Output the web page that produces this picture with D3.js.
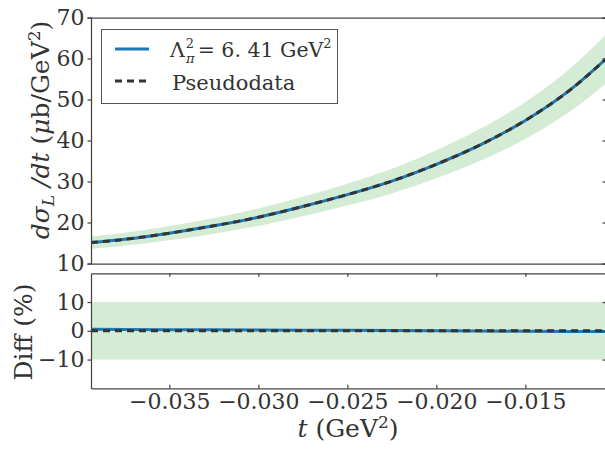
<!DOCTYPE html>
<html>
<head>
<meta charset="utf-8">
<script src="https://cdn.jsdelivr.net/npm/d3@7"></script>
<style>
  body { margin: 0; background: #fff; }
  svg { display: block; font-family: "DejaVu Serif", serif; }
  .axis text { font-family: "DejaVu Serif", serif; font-size: 22px; fill: #333; }
  .axis path, .axis line { stroke: #444; stroke-width: 1.25; }
</style>
</head>
<body>
<svg id="chart" width="605" height="449"></svg>
<script>
// values
const tValues = [-0.0394, -0.0375, -0.035, -0.0325, -0.030, -0.0275, -0.025, -0.0225, -0.020, -0.0175, -0.015, -0.0125, -0.0104];
const fitValues = [15.1, 15.9, 17.4, 19.2, 21.3, 23.9, 26.8, 30.1, 34.2, 39.0, 44.9, 52.3, 60.2];
const pseudoValues = [15.1, 15.9, 17.4, 19.2, 21.3, 23.9, 26.8, 30.1, 34.2, 39.0, 44.9, 52.3, 60.2];
const diffValues = [0.5, 0.45, 0.4, 0.35, 0.28, 0.22, 0.15, 0.08, 0.0, -0.07, -0.14, -0.2, -0.25];
const bandFraction = 0.10;
const xTicks = [-0.035, -0.030, -0.025, -0.020, -0.015];
const topYTicks = [10, 20, 30, 40, 50, 60, 70];
const diffYTicks = [-10, 0, 10];

const BLUE = '#1f77b4';
const DASH = '#333333';
const BAND = '#d4ecd4';

const svg = d3.select('#chart');

const plot = { left: 91, right: 606 };
const topBox = { top: 17.5, bottom: 263.5 };
const botBox = { top: 273.3, bottom: 388.3 };

const x = d3.scaleLinear().domain([-0.0394, -0.01047]).range([plot.left, plot.right]);
const yTop = d3.scaleLinear().domain([10, 70]).range([topBox.bottom, topBox.top]);
const yDiff = d3.scaleLinear().domain([-20, 20]).range([botBox.bottom, botBox.top]);

const rows = tValues.map((t, i) => ({ t, fit: fitValues[i], pseudo: pseudoValues[i], diff: diffValues[i] }));

// clip paths
const defs = svg.append('defs');
defs.append('clipPath').attr('id', 'clipTop')
  .append('rect').attr('x', plot.left).attr('y', topBox.top)
  .attr('width', plot.right - plot.left).attr('height', topBox.bottom - topBox.top);
defs.append('clipPath').attr('id', 'clipBot')
  .append('rect').attr('x', plot.left).attr('y', botBox.top)
  .attr('width', plot.right - plot.left).attr('height', botBox.bottom - botBox.top);

// ---- top panel ----
const gTop = svg.append('g').attr('clip-path', 'url(#clipTop)');

gTop.append('path')
  .datum(rows)
  .attr('fill', BAND)
  .attr('d', d3.area().curve(d3.curveNatural)
    .x(d => x(d.t))
    .y0(d => yTop(d.fit * (1 - bandFraction)))
    .y1(d => yTop(d.fit * (1 + bandFraction))));

gTop.append('path')
  .datum(rows)
  .attr('fill', 'none').attr('stroke', BLUE).attr('stroke-width', 3)
  .attr('d', d3.line().curve(d3.curveNatural).x(d => x(d.t)).y(d => yTop(d.fit)));

gTop.append('path')
  .datum(rows)
  .attr('fill', 'none').attr('stroke', DASH).attr('stroke-width', 3)
  .attr('stroke-dasharray', '7,5')
  .attr('d', d3.line().curve(d3.curveNatural).x(d => x(d.t)).y(d => yTop(d.pseudo)));

svg.append('g').attr('class', 'axis')
  .attr('transform', `translate(${plot.left},0)`)
  .call(d3.axisLeft(yTop).tickValues(topYTicks).tickSize(3.5).tickPadding(3).tickFormat(d3.format('d')));

svg.append('g').attr('class', 'axis')
  .attr('transform', `translate(${plot.right},0)`)
  .call(d3.axisRight(yTop).tickValues(topYTicks).tickSize(-3.5).tickFormat(''));

svg.append('g').attr('class', 'axis')
  .attr('transform', `translate(0,${topBox.top})`)
  .call(d3.axisTop(x).tickValues([]).tickSizeOuter(0));

svg.append('g').attr('class', 'axis')
  .attr('transform', `translate(0,${topBox.bottom})`)
  .call(d3.axisBottom(x).tickValues([]).tickSizeOuter(0));

// legend
const legend = svg.append('g');
legend.append('rect')
  .attr('x', 101.5).attr('y', 29.5).attr('width', 236).attr('height', 74)
  .attr('fill', '#fff').attr('stroke', '#555').attr('stroke-width', 1);
legend.append('line')
  .attr('x1', 115).attr('x2', 149).attr('y1', 49).attr('y2', 49)
  .attr('stroke', BLUE).attr('stroke-width', 3);
legend.append('line')
  .attr('x1', 115).attr('x2', 149).attr('y1', 81).attr('y2', 81)
  .attr('stroke', DASH).attr('stroke-width', 3).attr('stroke-dasharray', '7,5');

const lab1 = legend.append('text').attr('x', 170).attr('y', 57).attr('font-size', 20.5).attr('fill', '#333');
lab1.append('tspan').text('Λ');
lab1.append('tspan').attr('font-size', 13).attr('dy', -9).attr('dx', 1).text('2');
lab1.append('tspan').attr('font-size', 13).attr('font-style', 'italic').attr('dx', -8).attr('dy', 15).text('π');
lab1.append('tspan').attr('dy', -6).attr('dx', 3).text('= 6. 41 GeV');
lab1.append('tspan').attr('font-size', 13).attr('dy', -9).text('2');

legend.append('text').attr('x', 172).attr('y', 90).attr('font-size', 21).attr('fill', '#333').text('Pseudodata');

// y label top
const ylab = svg.append('text')
  .attr('transform', 'translate(49,130) rotate(-90)')
  .attr('text-anchor', 'middle').attr('font-size', 25).attr('fill', '#333');
ylab.append('tspan').attr('font-style', 'italic').text('dσ');
ylab.append('tspan').attr('font-style', 'italic').attr('font-size', 17).attr('dy', 5).text('L');
ylab.append('tspan').attr('font-style', 'italic').attr('dy', -5).text(' /dt ');
ylab.append('tspan').text('(');
ylab.append('tspan').attr('font-style', 'italic').text('μ');
ylab.append('tspan').text('b/GeV');
ylab.append('tspan').attr('font-size', 17).attr('dy', -9).text('2');
ylab.append('tspan').attr('dy', 9).text(')');

// ---- bottom panel ----
const gBot = svg.append('g').attr('clip-path', 'url(#clipBot)');

gBot.append('rect')
  .attr('x', plot.left).attr('width', plot.right - plot.left)
  .attr('y', yDiff(10)).attr('height', yDiff(-10) - yDiff(10))
  .attr('fill', BAND);

gBot.append('path')
  .datum(rows)
  .attr('fill', 'none').attr('stroke', BLUE).attr('stroke-width', 3)
  .attr('d', d3.line().x(d => x(d.t)).y(d => yDiff(d.diff)));

gBot.append('path')
  .datum(rows)
  .attr('fill', 'none').attr('stroke', DASH).attr('stroke-width', 3)
  .attr('stroke-dasharray', '7,5')
  .attr('d', d3.line().x(d => x(d.t)).y(() => yDiff(0)));

svg.append('g').attr('class', 'axis')
  .attr('transform', `translate(${plot.left},0)`)
  .call(d3.axisLeft(yDiff).tickValues(diffYTicks).tickSize(3.5).tickPadding(3).tickSizeOuter(0).tickFormat(d3.format('d')));

svg.append('g').attr('class', 'axis')
  .attr('transform', `translate(${plot.right},0)`)
  .call(d3.axisRight(yDiff).tickValues(diffYTicks).tickSize(-3.5).tickSizeOuter(0).tickFormat(''));

svg.append('g').attr('class', 'axis')
  .attr('transform', `translate(0,${botBox.top})`)
  .call(d3.axisTop(x).tickValues(xTicks).tickSize(-3.5).tickSizeOuter(0).tickFormat(''));

svg.append('g').attr('class', 'axis')
  .attr('transform', `translate(0,${botBox.bottom})`)
  .call(d3.axisBottom(x).tickValues(xTicks).tickSize(-3.5).tickPadding(5).tickSizeOuter(0).tickFormat(d3.format('.3f')));

// diff label
svg.append('text')
  .attr('transform', 'translate(32,332) rotate(-90)')
  .attr('text-anchor', 'middle').attr('font-size', 25).attr('fill', '#333')
  .text('Diff (%)');

// x label
const xlab = svg.append('text')
  .attr('x', 348).attr('y', 437)
  .attr('text-anchor', 'middle').attr('font-size', 25).attr('fill', '#333');
xlab.append('tspan').attr('font-style', 'italic').text('t');
xlab.append('tspan').text(' (GeV');
xlab.append('tspan').attr('font-size', 17).attr('dy', -9).text('2');
xlab.append('tspan').attr('dy', 9).text(')');
</script>
</body>
</html>
